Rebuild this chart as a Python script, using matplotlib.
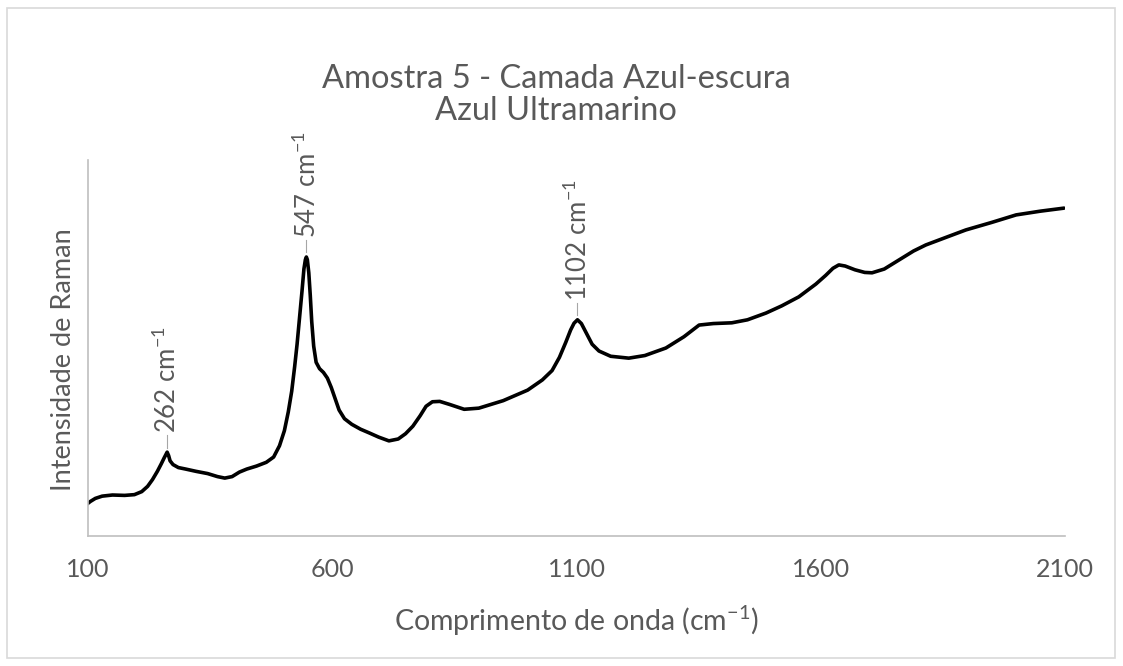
import numpy as np
import matplotlib.pyplot as plt
from matplotlib.patches import Rectangle

plt.rcParams['font.family'] = ['Lato', 'DejaVu Sans']

# Raman shift (cm-1) and intensity (arbitrary units)
shift = [98, 105, 115, 129, 150, 175, 195, 210, 222, 232, 242, 250, 256,
         260, 262, 265, 268, 274, 285, 300, 321, 345, 365, 380, 395, 410,
         425, 445, 465, 480, 492, 502, 510, 517, 523, 528, 533, 538, 542,
         545, 547, 549, 552, 555, 558, 562, 567, 574, 582, 590, 598, 606,
         614, 625, 640, 658, 676, 695, 716, 735, 750, 765, 780, 792, 805,
         820, 840, 870, 900, 950, 1000, 1030, 1050, 1065, 1078, 1088, 1095,
         1102, 1110, 1120, 1132, 1146, 1170, 1207, 1240, 1283, 1320, 1351,
         1380, 1418, 1450, 1488, 1520, 1555, 1590, 1610, 1625, 1637, 1650,
         1670, 1690, 1705, 1730, 1760, 1790, 1815, 1860, 1897, 1950, 2000,
         2050, 2098]
intensity = [85, 92, 100, 106, 109, 108, 110, 118, 132, 150, 172, 192, 208,
             218, 223, 214, 200, 190, 182, 178, 172, 166, 158, 154, 158, 170,
             178, 186, 196, 210, 240, 280, 330, 385, 450, 510, 580, 650, 710,
             735, 742, 735, 700, 640, 570, 505, 462, 445, 435, 420, 395, 365,
             335, 312, 297, 284, 274, 263, 253, 258, 272, 292, 320, 345, 357,
             358, 350, 337, 340, 360, 388, 415, 440, 475, 515, 548, 566, 575,
             565, 540, 510, 492, 478, 473, 480, 500, 530, 561, 565, 567, 575,
             593, 612, 636, 670, 693, 712, 721, 718, 708, 701, 700, 710, 734,
             758, 774, 796, 814, 834, 854, 864, 872]

peaks = [262, 547, 1102]
peak_labels = ['262 cm$^{\\mathregular{-1}}$', '547 cm$^{\\mathregular{-1}}$',
               '1102 cm$^{\\mathregular{-1}}$']

grey = '#595959'

fig = plt.figure(figsize=(11.23, 6.66), dpi=100)
fig.patches.append(Rectangle((7 / 1123, 8 / 666), 1108 / 1123, 650 / 666,
                             transform=fig.transFigure, fill=False,
                             edgecolor='#d9d9d9', linewidth=1.2))

ax = fig.add_axes([88 / 1123, 130 / 666, 977 / 1123, 376 / 666])
ax.plot(shift, intensity, color='black', linewidth=2.6,
        solid_joinstyle='round', solid_capstyle='round')

ax.set_xlim(100, 2100)
ax.set_ylim(0, 1000)
ax.set_xticks([100, 600, 1100, 1600, 2100])
ax.set_yticks([])
ax.tick_params(axis='x', length=0, labelsize=18, labelcolor=grey, pad=16)

for side in ['top', 'right']:
    ax.spines[side].set_visible(False)
for side in ['left', 'bottom']:
    ax.spines[side].set_color('#bfbfbf')
    ax.spines[side].set_linewidth(1.2)

# peak labels with short leader lines
for p, lab in zip(peaks, peak_labels):
    y = np.interp(p, shift, intensity)
    ax.plot([p, p], [y + 12, y + 45], color='#a6a6a6', linewidth=0.8)
    ax.text(p, y + 50, lab, rotation=90, ha='center', va='bottom',
            fontsize=18.5, color=grey)

ax.set_xlabel('Comprimento de onda (cm$^{\\mathregular{-1}}$)', fontsize=20.5,
              color=grey, labelpad=16)
ax.set_ylabel('Intensidade de Raman', fontsize=19.5, color=grey)
ax.yaxis.set_label_coords(-0.012, 0.468)

fig.text(0.495, 0.882, 'Amostra 5 - Camada Azul-escura', ha='center',
         va='center', fontsize=23.5, color=grey)
fig.text(0.495, 0.833, 'Azul Ultramarino', ha='center', va='center',
         fontsize=23.5, color=grey)

fig.savefig('out.png', dpi=100)
